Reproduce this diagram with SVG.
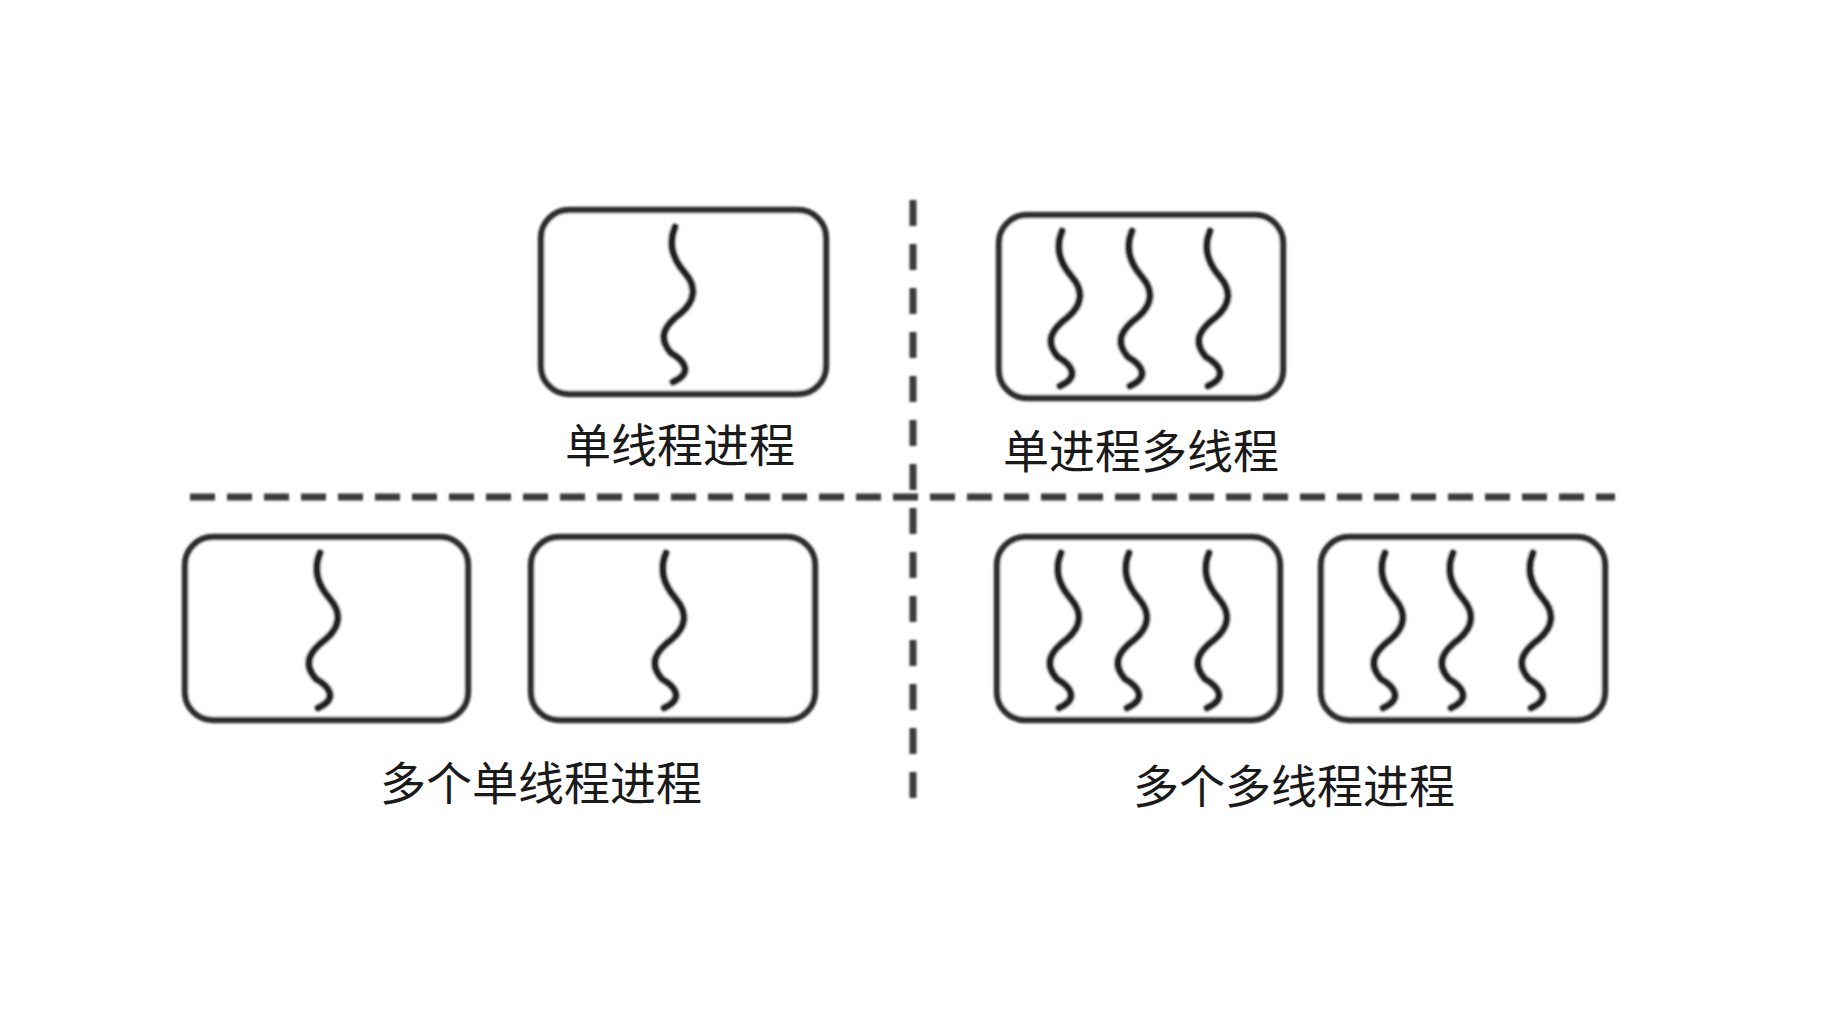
<svg xmlns="http://www.w3.org/2000/svg" xmlns:xlink="http://www.w3.org/1999/xlink" width="1835" height="1017" viewBox="0 0 1835 1017">
<style>
.box{fill:#fff;stroke:#2e2e2e;stroke-width:6.5}
.dash{fill:none;stroke:#3a3a3a;stroke-width:7}
.lbl{font-family:"Noto Sans CJK SC","Noto Sans",sans-serif;font-size:46px;fill:#1a1a1a;text-anchor:middle;dominant-baseline:central}
</style>
<defs>
<filter id="soft" x="-10%" y="-10%" width="120%" height="120%"><feGaussianBlur stdDeviation="1.2"/></filter>
<path id="thread" fill="none" stroke="#222" stroke-width="7.5" stroke-linecap="round" d="M0 0 C-6 14 -4 30 10 46 C22 60 20 74 6 86 C-10 98 -18 110 -4 126 C10 134 18 146 -2 155"/>
</defs>
<rect width="1835" height="1017" fill="#fff"/>
<g id="connectors" filter="url(#soft)">
<line class="dash" x1="190" y1="497" x2="1615" y2="497" stroke-dasharray="25 12"/>
<line class="dash" x1="913" y1="200" x2="913" y2="810" stroke-width="6" stroke-dasharray="26 18"/>
</g>
<g id="single-thread-process" filter="url(#soft)">
<rect class="box" x="541" y="210" width="285" height="184" rx="28"/>
<use xlink:href="#thread" x="675" y="227"/>
</g>
<g id="single-process-multi-thread" filter="url(#soft)">
<rect class="box" x="999" y="215" width="284" height="183" rx="28"/>
<use xlink:href="#thread" x="1062" y="231"/>
<use xlink:href="#thread" x="1132" y="231"/>
<use xlink:href="#thread" x="1210" y="231"/>
</g>
<g id="multi-single-1" filter="url(#soft)">
<rect class="box" x="185" y="537" width="283" height="183" rx="28"/>
<use xlink:href="#thread" x="320" y="553"/>
</g>
<g id="multi-single-2" filter="url(#soft)">
<rect class="box" x="531" y="537" width="284" height="183" rx="28"/>
<use xlink:href="#thread" x="666" y="553"/>
</g>
<g id="multi-multi-1" filter="url(#soft)">
<rect class="box" x="997" y="537" width="283" height="183" rx="28"/>
<use xlink:href="#thread" x="1061" y="553"/>
<use xlink:href="#thread" x="1129" y="553"/>
<use xlink:href="#thread" x="1209" y="553"/>
</g>
<g id="multi-multi-2" filter="url(#soft)">
<rect class="box" x="1321" y="537" width="284" height="183" rx="28"/>
<use xlink:href="#thread" x="1385" y="553"/>
<use xlink:href="#thread" x="1453" y="553"/>
<use xlink:href="#thread" x="1533" y="553"/>
</g>
<g id="labels">
<text class="lbl" x="680" y="442">单线程进程</text>
<text class="lbl" x="1141" y="448">单进程多线程</text>
<text class="lbl" x="541" y="780">多个单线程进程</text>
<text class="lbl" x="1294" y="783">多个多线程进程</text>
</g>
</svg>
